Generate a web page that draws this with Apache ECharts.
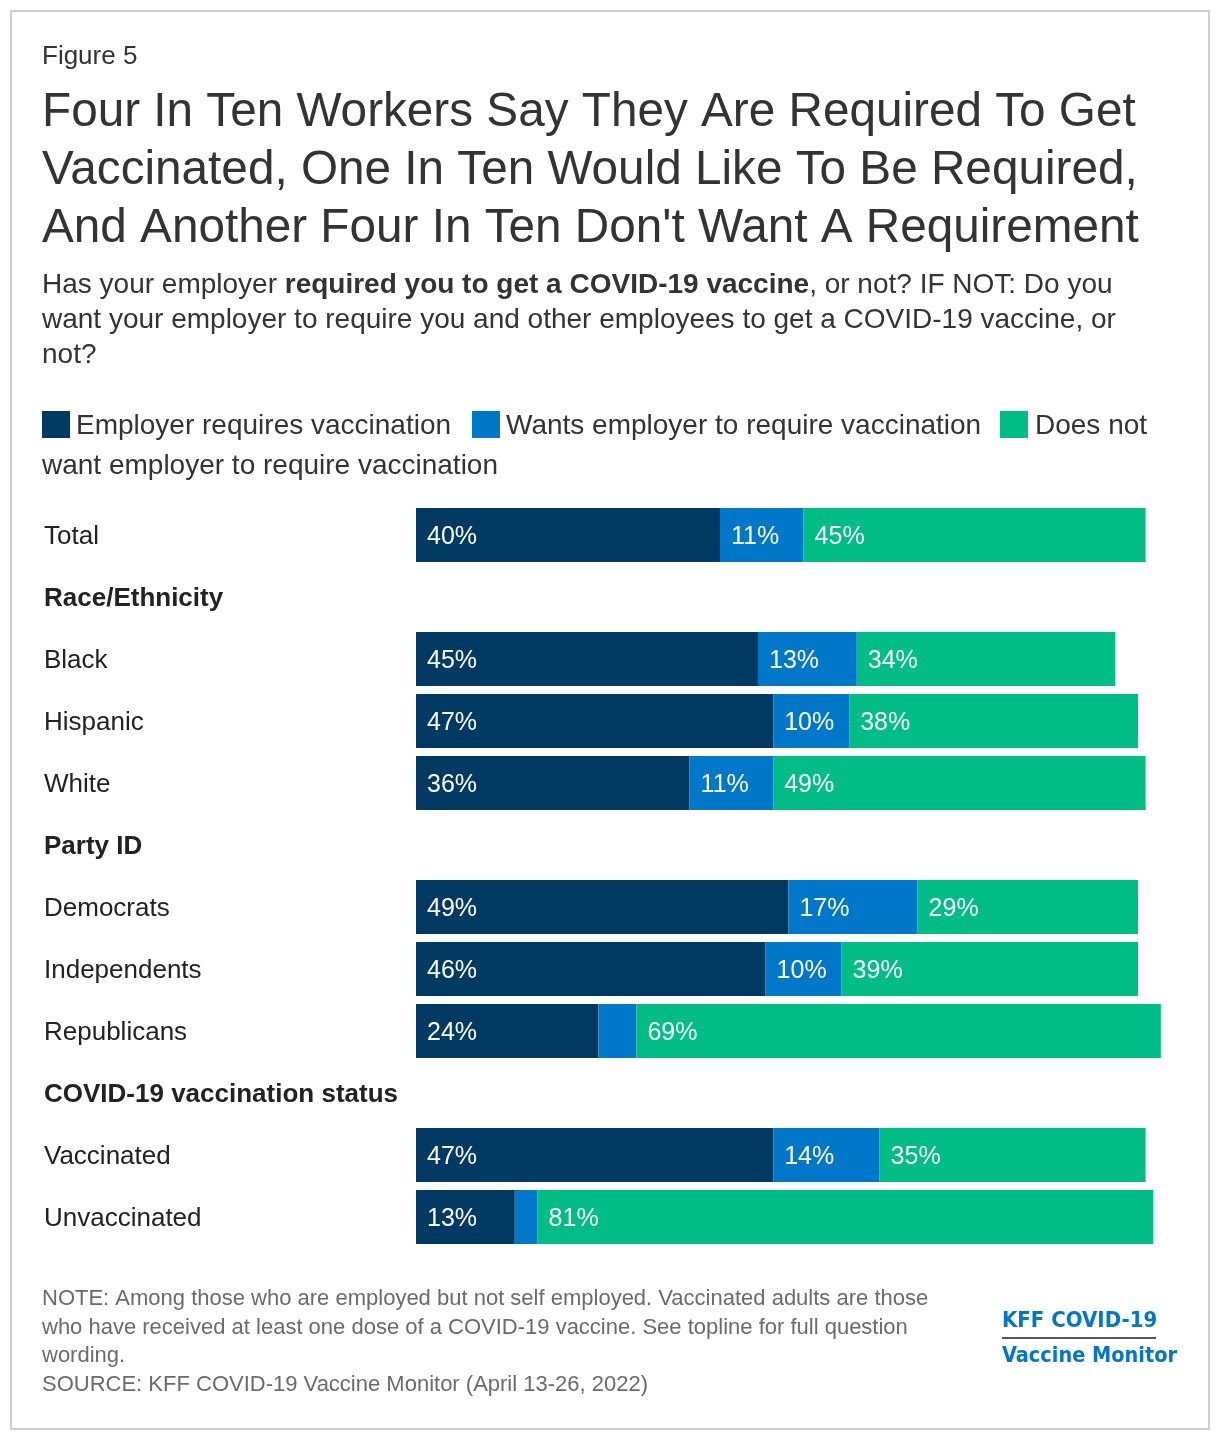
<!DOCTYPE html>
<html>
<head>
<meta charset="utf-8">
<script src="https://cdn.jsdelivr.net/npm/echarts@6/dist/echarts.min.js"></script>
<style>
html,body{margin:0;padding:0;background:#fff;}
#chart{width:1220px;height:1440px;}
</style>
</head>
<body>
<div id="chart"></div>
<script>
const categories = ['Total', 'Race/Ethnicity', 'Black', 'Hispanic', 'White', 'Party ID', 'Democrats', 'Independents', 'Republicans', 'COVID-19 vaccination status', 'Vaccinated', 'Unvaccinated'];
const headers = ['Race/Ethnicity', 'Party ID', 'COVID-19 vaccination status'];
const seriesNames = ['Employer requires vaccination', 'Wants employer to require vaccination', 'Does not want employer to require vaccination'];
const requiresVals = [40, null, 45, 47, 36, null, 49, 46, 24, null, 47, 13];
const wantsVals = [11, null, 13, 10, 11, null, 17, 10, 5, null, 14, 3];
const doesNotVals = [45, null, 34, 38, 49, null, 29, 39, 69, null, 35, 81];
const colors = ['#003A63', '#0077C8', '#00BD86'];

const FONT = '"Liberation Sans", Arial, Helvetica, sans-serif';
const chart = echarts.init(document.getElementById('chart'));

function mkSeries(name, data, color) {
  return {
    name: name,
    type: 'bar',
    stack: 'total',
    barWidth: 54,
    data: data,
    itemStyle: { color: color },
    emphasis: { disabled: true },
    label: {
      show: true,
      position: 'insideLeft',
      distance: 11,
      offset: [0, 2],
      color: '#fff',
      fontSize: 25,
      fontFamily: FONT,
      formatter: p => (p.value != null && p.value >= 6) ? p.value + '%' : ''
    }
  };
}

const option = {
  animation: false,
  backgroundColor: '#fff',
  grid: { left: 416, top: 504, height: 744, right: 44 },
  xAxis: {
    type: 'value', min: 0, max: 100,
    show: false, splitLine: { show: false }
  },
  yAxis: {
    type: 'category',
    data: categories,
    inverse: true,
    axisLine: { show: false },
    axisTick: { show: false },
    axisLabel: {
      align: 'left',
      margin: 372,
      fontSize: 26,
      fontFamily: FONT,
      color: '#222',
      padding: [4, 0, 0, 0],
      formatter: v => headers.includes(v) ? '{h|' + v + '}' : v,
      rich: { h: { fontWeight: 'bold', fontSize: 26, fontFamily: FONT, color: '#222' } }
    }
  },
  series: [
    mkSeries(seriesNames[0], requiresVals, colors[0]),
    mkSeries(seriesNames[1], wantsVals, colors[1]),
    mkSeries(seriesNames[2], doesNotVals, colors[2])
  ],
  graphic: [
    { type: 'rect', shape: { x: 11, y: 11, width: 1198, height: 1418 }, style: { fill: 'none', stroke: '#cfcfcf', lineWidth: 2 }, silent: true },
    { type: 'text', x: 42, y: 57, style: { text: 'Figure 5', fill: '#333', fontSize: 26, fontFamily: FONT, verticalAlign: 'middle' } },
    { type: 'text', x: 42, y: 84, style: {
      text: "Four In Ten Workers Say They Are Required To Get\nVaccinated, One In Ten Would Like To Be Required,\nAnd Another Four In Ten Don't Want A Requirement",
      fill: '#333', fontSize: 47.7, fontFamily: FONT, lineHeight: 58, verticalAlign: 'top' } },
    { type: 'text', x: 42, y: 268, style: {
      text: 'Has your employer {b|required you to get a COVID-19 vaccine}, or not? IF NOT: Do you\nwant your employer to require you and other employees to get a COVID-19 vaccine, or\nnot?',
      fill: '#333', fontSize: 28, fontFamily: FONT, lineHeight: 35, verticalAlign: 'top',
      rich: { b: { fontWeight: 'bold', fontSize: 28, fontFamily: FONT, fill: '#333', lineHeight: 35 } } } },
    // legend
    { type: 'rect', shape: { x: 42, y: 411, width: 28, height: 27 }, style: { fill: colors[0] } },
    { type: 'text', x: 76, y: 426, style: { text: seriesNames[0], fill: '#333', fontSize: 28, fontFamily: FONT, verticalAlign: 'middle' } },
    { type: 'rect', shape: { x: 472, y: 411, width: 28, height: 27 }, style: { fill: colors[1] } },
    { type: 'text', x: 506, y: 426, style: { text: seriesNames[1], fill: '#333', fontSize: 28, fontFamily: FONT, verticalAlign: 'middle' } },
    { type: 'rect', shape: { x: 1000, y: 411, width: 28, height: 27 }, style: { fill: colors[2] } },
    { type: 'text', x: 1035, y: 426, style: { text: 'Does not', fill: '#333', fontSize: 28, fontFamily: FONT, verticalAlign: 'middle' } },
    { type: 'text', x: 42, y: 466, style: { text: 'want employer to require vaccination', fill: '#333', fontSize: 28, fontFamily: FONT, verticalAlign: 'middle' } },
    // notes
    { type: 'text', x: 42, y: 1285, style: {
      text: 'NOTE: Among those who are employed but not self employed. Vaccinated adults are those\nwho have received at least one dose of a COVID-19 vaccine. See topline for full question\nwording.\nSOURCE: KFF COVID-19 Vaccine Monitor (April 13-26, 2022)',
      fill: '#6b6b6b', fontSize: 22, fontFamily: FONT, lineHeight: 28.5, verticalAlign: 'top' } },
    // logo
    { type: 'text', x: 1002, y: 1321, style: { text: 'KFF COVID-19', fill: '#0077C8', fontSize: 22, fontWeight: 'bold', fontFamily: '"DejaVu Sans Condensed", "DejaVu Sans", sans-serif', verticalAlign: 'middle' } },
    { type: 'line', shape: { x1: 1002, y1: 1338, x2: 1156, y2: 1338 }, style: { stroke: '#555', lineWidth: 2 } },
    { type: 'text', x: 1002, y: 1356, style: { text: 'Vaccine Monitor', fill: '#0077C8', fontSize: 21.5, fontWeight: 'bold', fontFamily: '"DejaVu Sans Condensed", "DejaVu Sans", sans-serif', verticalAlign: 'middle' } }
  ]
};
chart.setOption(option);
</script>
</body>
</html>
